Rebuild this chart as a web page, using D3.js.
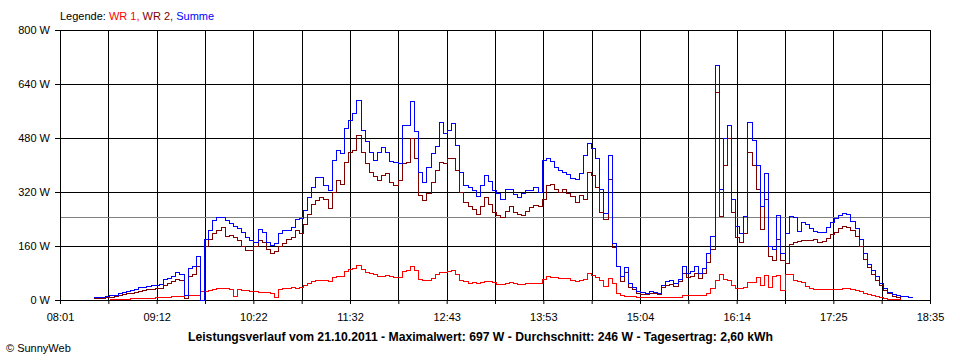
<!DOCTYPE html>
<html><head><meta charset="utf-8">
<script src="https://cdn.jsdelivr.net/npm/d3@7"></script>
<style>
body{margin:0;background:#fff}
svg text{font-family:Arial,"Liberation Sans",sans-serif}
</style>
</head><body>
<svg id="c" width="960" height="360"></svg>
<script>
// ---- data ----
const times = [
"08:25","08:28","08:31","08:34","08:37","08:40","08:43","08:46","08:49","08:52","08:55","08:58",
"09:01","09:04","09:07","09:10","09:13","09:16","09:19","09:22","09:25","09:28","09:31","09:34","09:37","09:40","09:43","09:46","09:49","09:52","09:55","09:58",
"10:01","10:04","10:07","10:10","10:13","10:16","10:19","10:22","10:25","10:28","10:31","10:34","10:37","10:40","10:43","10:46","10:49","10:52","10:55","10:58",
"11:01","11:04","11:07","11:10","11:13","11:16","11:19","11:22","11:25","11:28","11:31","11:34","11:37","11:40","11:43","11:46","11:49","11:52","11:55","11:58",
"12:01","12:04","12:07","12:10","12:13","12:16","12:19","12:22","12:25","12:28","12:31","12:34","12:37","12:40","12:43","12:46","12:49","12:52","12:55","12:58",
"13:01","13:04","13:07","13:10","13:13","13:16","13:19","13:22","13:25","13:28","13:31","13:34","13:37","13:40","13:43","13:46","13:49","13:52","13:55","13:58",
"14:01","14:04","14:07","14:10","14:13","14:16","14:19","14:22","14:25","14:28","14:31","14:34","14:37","14:40","14:43","14:46","14:49","14:52","14:55","14:58",
"15:01","15:04","15:07","15:10","15:13","15:16","15:19","15:22","15:25","15:28","15:31","15:34","15:37","15:40","15:43","15:46","15:49","15:52","15:55","15:58",
"16:01","16:04","16:07","16:10","16:13","16:16","16:19","16:22","16:25","16:28","16:31","16:34","16:37","16:40","16:43","16:46","16:49","16:52","16:55","16:58",
"17:01","17:04","17:07","17:10","17:13","17:16","17:19","17:22","17:25","17:28","17:31","17:34","17:37","17:40","17:43","17:46","17:49","17:52","17:55","17:58",
"18:01","18:04","18:07","18:10","18:13","18:16","18:19","18:22"
];
const summe = [
8,8,10,12,14,16,20,25,28,30,33,38,
40,42,43,44,46,62,66,72,82,78,15,94,100,130,0,180,207,237,247,247,
237,229,219,212,202,188,178,173,209,202,173,163,170,198,207,207,215,239,242,267,
306,335,365,363,340,326,415,445,435,510,533,555,593,505,470,440,415,440,454,440,
412,408,405,519,520,590,500,380,350,395,435,455,528,494,505,525,460,380,340,336,
326,309,340,370,352,326,316,300,330,330,313,306,318,326,326,336,320,415,420,412,
395,385,380,372,362,360,375,430,464,450,420,330,257,430,168,100,72,99,50,40,
27,23,22,28,25,22,45,55,58,50,62,100,79,85,100,79,95,138,190,696,
330,480,520,300,220,198,250,528,474,400,280,375,160,150,252,140,200,250,245,205,
232,225,212,205,202,202,215,230,243,252,257,254,235,212,180,140,108,88,70,50,
35,24,18,15,13,11,10,8
];
const wr2 = [
6,6,7,8,9,11,14,17,20,22,24,27,
29,32,34,35,37,44,50,55,62,60,5,70,78,100,0,160,180,200,207,215,
190,192,188,178,160,148,148,160,178,172,150,138,145,160,170,180,188,207,200,225,
255,285,296,305,300,274,320,355,345,410,440,445,489,440,405,380,368,355,370,375,
350,341,355,405,410,480,420,310,296,316,350,385,410,405,420,420,385,320,291,280,
270,255,280,306,285,262,252,247,265,280,262,255,252,265,276,282,280,300,340,345,
330,320,330,318,308,290,310,300,380,370,336,260,240,360,158,100,55,84,40,33,
22,18,17,20,22,18,40,45,47,42,55,80,69,72,80,64,80,113,150,615,
250,400,480,260,188,173,200,440,400,330,210,300,130,120,180,120,110,165,172,175,
178,178,178,180,172,175,185,195,202,212,218,216,208,190,160,122,99,78,60,45,
30,20,12,8,5,null,null,null
];
const wr1 = [
null,null,null,null,2,3,3,4,4,5,5,6,
6,7,7,8,8,9,10,11,12,13,14,14,15,15,27,28,29,33,37,36,
35,34,12,32,30,29,27,26,25,24,23,22,8,33,36,37,38,37,40,43,
50,55,58,60,58,56,68,70,72,85,92,95,103,92,84,80,76,70,72,74,
70,67,68,85,88,100,90,62,58,60,66,78,84,84,85,89,78,60,55,51,
52,51,53,57,56,52,48,46,50,52,50,48,48,49,49,50,50,62,70,68,
68,66,66,64,60,56,58,62,80,75,68,60,42,65,50,22,14,13,12,11,
10,8,8,8,8,8,8,9,9,10,10,15,15,14,14,14,15,22,35,60,
78,62,60,45,35,35,40,54,54,68,44,75,40,72,75,30,78,76,60,55,
54,42,35,34,33,32,32,32,32,34,35,35,33,30,26,22,19,16,12,9,
5,3,2,2,2,null,null,null
];
const xTickLabels = ["08:01","09:12","10:22","11:32","12:43","13:53","15:04","16:14","17:25","18:35"];
const yTicks = [0,160,320,480,640,800];
const average = 246;
const titleText = "Leistungsverlauf vom 21.10.2011 - Maximalwert: 697 W - Durchschnitt: 246 W - Tagesertrag: 2,60 kWh";

// ---- chart ----
const toMin = s => { const p = s.split(':').map(Number); return p[0]*60 + p[1]; };
const t0 = toMin(xTickLabels[0]), t1 = toMin(xTickLabels[xTickLabels.length-1]);
const x = d3.scaleLinear().domain([t0, t1]).range([60, 930]);
const y = d3.scaleLinear().domain([0, 800]).range([300, 30]);
const px = v => Math.round(v) + 0.5;
const svg = d3.select('#c');

const nGrid = (xTickLabels.length - 1) * 2;
const gridT = d3.range(nGrid + 1).map(k => t0 + k * (t1 - t0) / nGrid);

// grid
const g = svg.append('g').attr('shape-rendering','crispEdges');
g.selectAll('line.vg').data(gridT).join('line').attr('class','vg')
  .attr('x1', d => px(x(d))).attr('x2', d => px(x(d)))
  .attr('y1', y(800)).attr('y2', y(0)).attr('stroke','#000');
g.selectAll('line.hg').data(yTicks).join('line').attr('class','hg')
  .attr('x1', 60).attr('x2', 931)
  .attr('y1', d => px(y(d))).attr('y2', d => px(y(d))).attr('stroke','#000');
// average line
g.append('line').attr('x1',61).attr('x2',930)
  .attr('y1', px(y(average))).attr('y2', px(y(average)))
  .attr('stroke','#808080');

// axes
const ax = svg.append('g').attr('transform','translate(60,0)')
  .call(d3.axisLeft(y).tickValues(yTicks).tickFormat(d => d + ' W').tickSize(5).tickPadding(5));
ax.select('.domain').remove();
ax.selectAll('line').attr('stroke','#000');
ax.selectAll('text').attr('font-size', 11).attr('fill','#000').style('font-family','Arial,"Liberation Sans",sans-serif');

const bx = svg.append('g').attr('transform','translate(0,300)')
  .call(d3.axisBottom(x).tickValues(gridT).tickSize(4).tickPadding(9)
    .tickFormat((d, i) => i % 2 === 0 ? xTickLabels[i / 2] : ''));
bx.select('.domain').remove();
bx.selectAll('line').attr('stroke','#000');
bx.selectAll('text').attr('font-size', 11).attr('fill','#000').style('font-family','Arial,"Liberation Sans",sans-serif');

// series
const mk = arr => d3.line()
  .defined(d => d != null)
  .x((d, i) => px(x(toMin(times[i]))))
  .y(d => px(y(d)))
  .curve(d3.curveStepAfter)(arr);
const sg = svg.append('g').attr('fill','none').attr('stroke-width',1).attr('shape-rendering','crispEdges');
sg.append('path').attr('d', mk(wr2)).attr('stroke','#800000');
sg.append('path').attr('d', mk(wr1)).attr('stroke','#ff0000');
sg.append('path').attr('d', mk(summe)).attr('stroke','#0000ff');

// legend
const lg = svg.append('text').attr('x', 60).attr('y', 20).attr('font-size', 11);
lg.append('tspan').attr('fill','#000').text('Legende: ');
lg.append('tspan').attr('fill','#ff0000').text('WR 1, ');
lg.append('tspan').attr('fill','#800000').text('WR 2, ');
lg.append('tspan').attr('fill','#0000ff').text('Summe');

// title
svg.append('text').attr('x', 480.5).attr('y', 341).attr('text-anchor','middle')
  .attr('font-size', 12).attr('font-weight','bold').attr('fill','#000')
  .attr('textLength', 585).attr('lengthAdjust','spacingAndGlyphs')
  .text(titleText);

svg.append('text').attr('x', 6).attr('y', 352).attr('font-size', 11).attr('fill','#000')
  .text('\u00A9 SunnyWeb');
</script>
</body></html>
